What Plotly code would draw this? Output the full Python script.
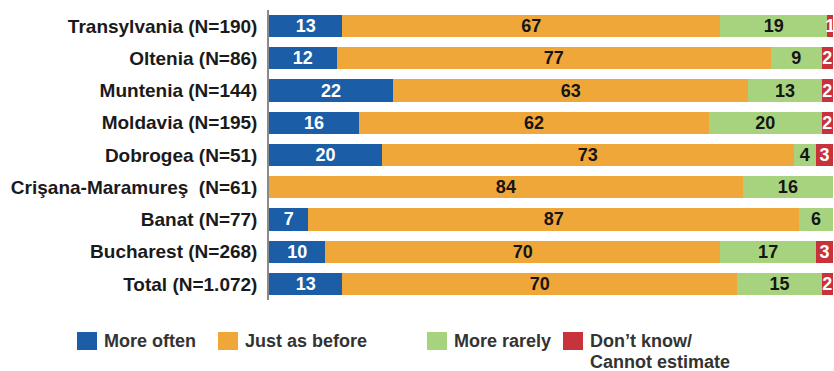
import plotly.graph_objects as go

regions = ["Transylvania (N=190)", "Oltenia (N=86)", "Muntenia (N=144)", "Moldavia (N=195)",
           "Dobrogea (N=51)", "Crişana-Maramureş\u00a0 (N=61)", "Banat (N=77)",
           "Bucharest (N=268)", "Total (N=1.072)"]
more_often = [13, 12, 22, 16, 20, 0, 7, 10, 13]
just_as_before = [67, 77, 63, 62, 73, 84, 87, 70, 70]
more_rarely = [19, 9, 13, 20, 4, 16, 6, 17, 15]
dont_know = [1, 2, 2, 2, 3, 0, 0, 3, 2]

series_names = ["More often", "Just as before", "More rarely", "Don\u2019t know/ Cannot estimate"]
legend_lines = [["More often"], ["Just as before"], ["More rarely"],
                ["Don\u2019t know/", "Cannot estimate"]]
series_values = [more_often, just_as_before, more_rarely, dont_know]
colors = ["#1B5DA6", "#F0A73A", "#A7D37F", "#C8323A"]
text_colors = ["white", "#151515", "#151515", "white"]

FONT = "Liberation Sans, Arial, sans-serif"

fig = go.Figure()
for name, vals, col, tcol in zip(series_names, series_values, colors, text_colors):
    fig.add_trace(go.Bar(
        y=regions, x=vals, orientation="h", name=name,
        marker=dict(color=col, line=dict(width=0)),
        text=[str(v) if v else "" for v in vals],
        textposition="inside", insidetextanchor="middle", textangle=0,
        constraintext="none",
        insidetextfont=dict(family=FONT, size=18, color=tcol, weight="bold"),
        hoverinfo="skip", showlegend=False,
    ))

W, H = 834, 371
L, R, T, B = 269, 1, 10, 71
pw, ph = W - L - R, H - T - B


def px(x):
    return (x - L) / pw


def py(y):
    return (H - B - y) / ph


legend_x = [77, 218, 427, 563]  # swatch left edges in pixels
shapes = []
annotations = []
for sx, lines, col in zip(legend_x, legend_lines, colors):
    shapes.append(dict(type="rect", xref="paper", yref="paper",
                       x0=px(sx), x1=px(sx + 20), y0=py(350), y1=py(332),
                       fillcolor=col, line=dict(width=0)))
    for i, line in enumerate(lines):
        annotations.append(dict(xref="paper", yref="paper", x=px(sx + 25), y=py(341 + 21 * i),
                                xanchor="left", yanchor="middle", align="left",
                                text=line, showarrow=False,
                                font=dict(family=FONT, size=18, color="#333333", weight="bold")))

fig.update_layout(
    width=W, height=H,
    margin=dict(l=L, r=R, t=T, b=B),
    barmode="stack", bargap=0.31,
    plot_bgcolor="white", paper_bgcolor="white",
    xaxis=dict(range=[0, 100], visible=False, fixedrange=True),
    yaxis=dict(autorange="reversed", showline=True, linecolor="#8a8a8a", linewidth=1.5,
               ticks="", ticklabelstandoff=6, showgrid=False, zeroline=False,
               tickfont=dict(family=FONT, size=19, color="#1a1a1a", weight="bold")),
    shapes=shapes, annotations=annotations,
    showlegend=False,
)

fig.write_html("out.html")
